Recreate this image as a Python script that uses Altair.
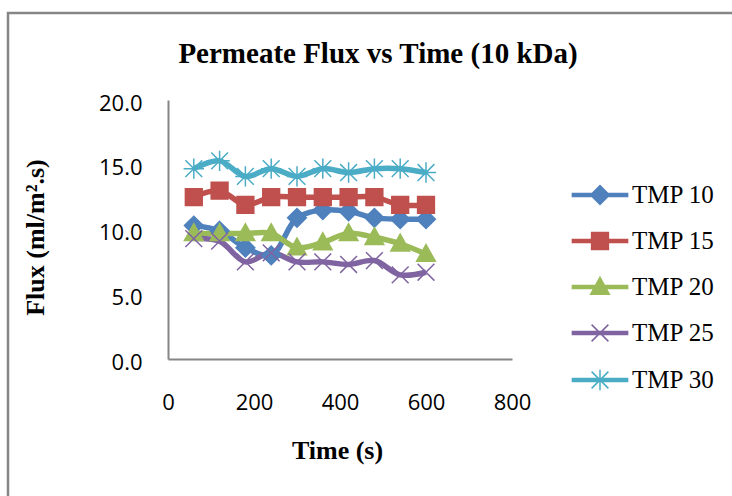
import altair as alt
import pandas as pd

# ---- data ----
time_s = [60, 120, 180, 240, 300, 360, 420, 480, 540, 600]
series_names = ["TMP 10", "TMP 15", "TMP 20", "TMP 25", "TMP 30"]
tmp10 = [10.3, 9.9, 8.6, 8.0, 10.9, 11.5, 11.4, 10.9, 10.8, 10.8]
tmp15 = [12.5, 13.0, 11.9, 12.5, 12.5, 12.5, 12.5, 12.5, 11.9, 11.9]
tmp20 = [9.7, 9.7, 9.7, 9.7, 8.6, 9.0, 9.7, 9.4, 8.9, 8.1]
tmp25 = [9.3, 9.1, 7.5, 8.2, 7.5, 7.5, 7.3, 7.6, 6.5, 6.7]
tmp30 = [14.7, 15.3, 14.1, 14.7, 14.1, 14.7, 14.4, 14.7, 14.7, 14.4]
x_ticks = [0, 200, 400, 600, 800]
y_ticks = [0, 5, 10, 15, 20]
chart_title = "Permeate Flux vs Time (10 kDa)"

# ---- styles ----
colors = ["#4F81BD", "#C0504D", "#9BBB59", "#8064A2", "#4BACC6"]
marker_paths = [
    "M0,-0.78L0.78,0L0,0.78L-0.78,0Z",
    "M-0.7,-0.7H0.7V0.7H-0.7Z",
    "M0,-0.8L0.78,0.6H-0.78Z",
    "M-0.7,-0.7L0.7,0.7M-0.7,0.7L0.7,-0.7",
    "M-0.7,-0.7L0.7,0.7M-0.7,0.7L0.7,-0.7M0,-0.85V0.85M-0.85,0H0.85",
]
line_seg = "M-2.3,-0.12H2.3V0.12H-2.3Z"
legend_paths = [line_seg + p for p in marker_paths]

rows = []
for name, vals in zip(series_names, [tmp10, tmp15, tmp20, tmp25, tmp30]):
    for t, v in zip(time_s, vals):
        rows.append({"series": name, "time": t, "flux": v})
df = pd.DataFrame(rows)

color_scale = alt.Scale(domain=series_names, range=colors)

x_enc = alt.X(
    "time:Q",
    scale=alt.Scale(domain=[0, 800], nice=False),
    axis=alt.Axis(values=x_ticks, title="Time (s)", labelPadding=33,
                  labelFlush=False,
                  titleX=169, titleY=91, titleBaseline="middle"),
)
y_enc = alt.Y(
    "flux:Q",
    scale=alt.Scale(domain=[0, 20], nice=False),
    axis=alt.Axis(values=y_ticks, format=".1f", title="Flux (ml/m².s)",
                  labelPadding=26, labelOffset=3,
                  titleX=-133, titleY=137, titleAngle=270,
                  titleAlign="center", titleBaseline="middle"),
)

legend = alt.Legend(
    title=None, orient="none", legendX=419, legendY=82,
    symbolSize=576, symbolStrokeWidth=1.5, symbolOpacity=1,
    labelFont="Liberation Serif", labelFontSize=25, labelColor="black",
    labelOffset=19, rowPadding=20, padding=0,
)

base = alt.Chart(df)

# legend-only layer (no rows drawn) placed first so its legend settings win
legend_layer = (
    base.transform_filter("datum.flux < -1000")
    .mark_point(filled=True, size=576, strokeWidth=1.5, opacity=1)
    .encode(
        x=x_enc, y=y_enc,
        fill=alt.Fill("series:N", scale=color_scale, legend=legend),
        stroke=alt.Stroke("series:N", scale=color_scale, legend=legend),
        shape=alt.Shape("series:N",
                        scale=alt.Scale(domain=series_names, range=legend_paths),
                        legend=legend),
    )
)

lines = base.mark_line(interpolate="catmull-rom", strokeWidth=5.5).encode(
    x=x_enc, y=y_enc,
    stroke=alt.Stroke("series:N", scale=color_scale, legend=None),
)

point_layers = []
for name, path in zip(series_names, marker_paths):
    point_layers.append(
        base.transform_filter(alt.datum.series == name)
        .mark_point(shape=path, filled=True, size=576, strokeWidth=1.5, opacity=1)
        .encode(
            x=x_enc, y=y_enc,
            fill=alt.Fill("series:N", scale=color_scale, legend=None),
            stroke=alt.Stroke("series:N", scale=color_scale, legend=None),
        )
    )

deco = alt.Chart(pd.DataFrame({"k": [0]}))
border = deco.mark_rect(fill=None, stroke="#868686", strokeWidth=2.5).encode(
    x=alt.value(-160), y=alt.value(-87), x2=alt.value(900), y2=alt.value(700)
)
title_text = deco.mark_text(
    text=chart_title, font="Liberation Serif", fontSize=29, fontWeight="bold",
    color="black", align="center", baseline="alphabetic",
).encode(x=alt.value(210), y=alt.value(-37))

chart = (
    alt.layer(legend_layer, border, title_text, lines, *point_layers)
    .properties(
        width=344, height=259,
        padding={"left": 168, "top": 100, "right": 220, "bottom": 137},
        autosize="none",
    )
    .configure_view(stroke=None)
    .configure_axis(
        grid=False, ticks=False, domainColor="#868686", domainWidth=2,
        labelFont="Open Sans", labelFontSize=22, labelColor="black",
        titleFont="Liberation Serif", titleFontSize=26, titleFontWeight="bold",
        titleColor="black",
    )
)

chart.save("out.html", embed_options={"renderer": "svg", "actions": False})
